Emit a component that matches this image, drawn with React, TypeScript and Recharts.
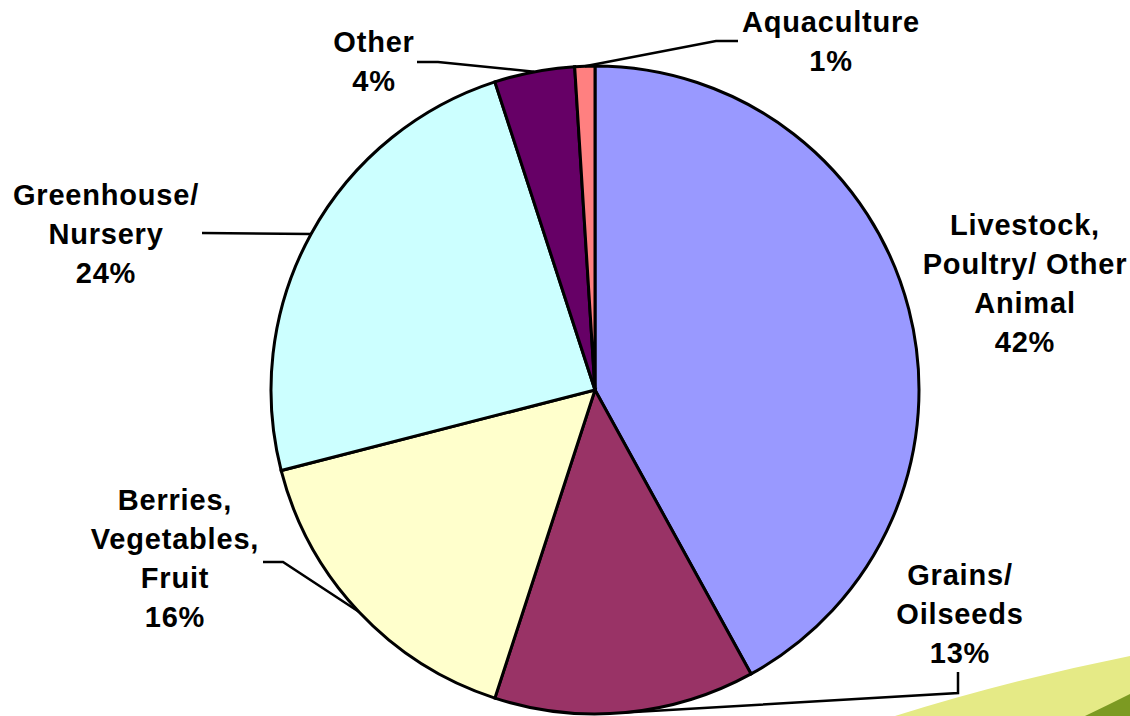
import React from 'react';
import { PieChart, Pie, Cell } from 'recharts';

// slice data, clockwise from 12 o'clock
const categories = ['Livestock', 'Grains', 'Berries', 'Greenhouse', 'Other', 'Aquaculture'];
const shares = [42, 13, 16, 24, 4, 1];
const labelLines = [
  ['Livestock,', 'Poultry/ Other', 'Animal', '42%'],
  ['Grains/', 'Oilseeds', '13%'],
  ['Berries,', 'Vegetables,', 'Fruit', '16%'],
  ['Greenhouse/', 'Nursery', '24%'],
  ['Other', '4%'],
  ['Aquaculture', '1%'],
];
const sliceColors = ['#9999FF', '#993366', '#FFFFCC', '#CCFFFF', '#660066', '#FF8080'];

const data = categories.map((name, i) => ({ name, value: shares[i], lines: labelLines[i] }));

const RADIAN = Math.PI / 180;
const FONT_SIZE = 29;
const LINE_H = 39;

// label placement relative to the pie centre; leader path goes anchor -> elbow -> end
const labelLayout: Record<string, { tx: number; ty: number; path?: [number, number][] }> = {
  Livestock: { tx: 430, ty: -165 },
  Grains: { tx: 365, ty: 185, path: [[363, 303], [363, 282]] },
  Berries: { tx: -420, ty: 110, path: [[-312, 172], [-332, 172]] },
  Greenhouse: { tx: -489, ty: -195, path: [[-393, -157]] },
  Other: { tx: -221, ty: -348, path: [[-157, -328], [-178, -328]] },
  Aquaculture: { tx: 236, ty: -368, path: [[121, -349], [143, -349]] },
};

const renderLabel = (props: any) => {
  const { cx, cy, midAngle, outerRadius, name, payload } = props;
  const layout = labelLayout[name];
  if (!layout) return null;
  const ax = cx + outerRadius * Math.cos(-midAngle * RADIAN);
  const ay = cy + outerRadius * Math.sin(-midAngle * RADIAN);
  const lines: string[] = payload.lines || props.lines;
  let d = '';
  if (layout.path) {
    d = `M${ax},${ay}` + layout.path.map(([x, y]) => ` L${cx + x},${cy + y}`).join('');
  }
  return (
    <g>
      {d && <path d={d} stroke="#000" strokeWidth={2.5} fill="none" />}
      {lines.map((t, i) => (
        <text
          key={i}
          x={cx + layout.tx}
          y={cy + layout.ty + i * LINE_H + FONT_SIZE * 0.36}
          textAnchor="middle"
          fill="#000"
          fontSize={FONT_SIZE}
          fontWeight="bold"
          letterSpacing={0.8}
          fontFamily='"Liberation Sans", Arial, sans-serif'
        >
          {t}
        </text>
      ))}
    </g>
  );
};

export default function App() {
  return (
    <div style={{ position: 'absolute', top: 0, left: 0, width: 1130, height: 716, background: '#fff', overflow: 'hidden' }}>
      <svg width={1130} height={716} style={{ position: 'absolute', top: 0, left: 0 }}>
        <path d="M895,716 Q1010,680 1130,656 L1130,716 Z" fill="#E5EA86" />
        <path d="M1085,716 Q1108,705 1130,694 L1130,716 Z" fill="#7C9A22" />
      </svg>
      <div style={{ position: 'absolute', top: 0, left: 0 }}>
        <PieChart width={1130} height={716} margin={{ top: 0, right: 0, bottom: 0, left: 0 }}>
          <Pie
            data={data}
            dataKey="value"
            nameKey="name"
            cx={595}
            cy={390}
            outerRadius={324}
            startAngle={90}
            endAngle={-270}
            stroke="#000"
            strokeWidth={3}
            label={renderLabel}
            labelLine={false}
            isAnimationActive={false}
          >
            {data.map((entry, index) => (
              <Cell key={`cell-${index}`} fill={sliceColors[index]} />
            ))}
          </Pie>
        </PieChart>
      </div>
    </div>
  );
}
